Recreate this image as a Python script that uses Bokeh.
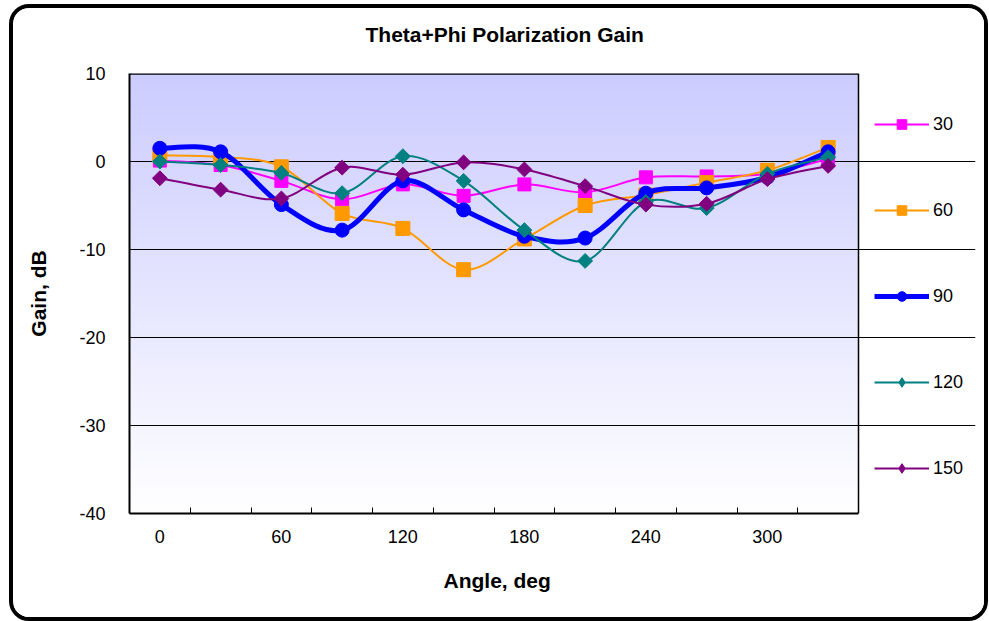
import numpy as np
from bokeh.plotting import figure
from bokeh.models import (ColumnDataSource, FixedTicker, Legend, LegendItem, Title)
from bokeh.embed import file_html
from bokeh.resources import INLINE

# ---------------- data ----------------
angles = [0, 30, 60, 90, 120, 150, 180, 210, 240, 270, 300, 330]
tick_labels = ["0", "60", "120", "180", "240", "300"]
y_ticks = [-40, -30, -20, -10, 0, 10]
gain_30 = [0.1, -0.4, -2.2, -4.3, -2.6, -3.9, -2.6, -3.5, -1.8, -1.7, -1.4, 0.3]
gain_60 = [0.7, 0.5, -0.6, -5.9, -7.6, -12.3, -8.8, -5.0, -3.8, -2.4, -1.0, 1.6]
gain_90 = [1.5, 1.1, -4.9, -7.8, -2.2, -5.5, -8.5, -8.7, -3.6, -3.0, -1.8, 1.1]
gain_120 = [0.0, -0.4, -1.3, -3.6, 0.6, -2.2, -7.8, -11.3, -4.6, -5.3, -1.4, 0.5]
gain_150 = [-1.9, -3.2, -4.2, -0.7, -1.5, -0.1, -0.9, -2.8, -4.9, -4.8, -2.0, -0.5]
series_names = ["30", "60", "90", "120", "150"]

FONT = "Liberation Sans"

# layout (pixels): plot area 729 px wide; frame extended to the right to hold the legend
n_cat = len(angles)
cat_px = 729 / n_cat
frame_px = 846
x_lo = -0.5
x_hi = x_lo + frame_px / cat_px
cat_lo, cat_hi = -0.5, n_cat - 0.5

p = figure(width=979, height=617, x_range=(x_lo, x_hi), y_range=(-40, 10),
           output_backend="svg", toolbar_location=None,
           min_border_left=116, min_border_right=17,
           min_border_top=65, min_border_bottom=112)
p.styles = {"border": "4px solid black", "border-radius": "20px",
            "box-sizing": "border-box", "overflow": "hidden",
            "position": "absolute", "left": "9px", "top": "4px"}

# gradient background of plot area
N = 256
img = np.empty((N, 1), dtype=np.uint32)
view = img.view(dtype=np.uint8).reshape((N, 1, 4))
t = np.linspace(0, 1, N)  # 0 bottom -> 1 top
view[:, 0, 0] = (255 - t * (255 - 204)).astype(np.uint8)
view[:, 0, 1] = (255 - t * (255 - 204)).astype(np.uint8)
view[:, 0, 2] = 255
view[:, 0, 3] = 255
p.image_rgba(image=[img], x=cat_lo, y=-40, dw=cat_hi - cat_lo, dh=50, level="image")

p.background_fill_color = "white"
p.border_fill_color = "white"
p.outline_line_color = None

# plot-area top and right border
p.segment(x0=[cat_lo, cat_hi], y0=[10, -40], x1=[cat_hi, cat_hi], y1=[10, 10],
          line_color="black", line_width=[2.5, 1.5])

# titles: spacer next to the frame, then the real title above it
p.title.text = ""
p.title.visible = False
spacer = Title(text=" ", text_font_size="1px", standoff=20)
p.add_layout(spacer, "above")
main_title = Title(text="Theta+Phi Polarization Gain", align="left", offset=236,
                   standoff=10, text_font=FONT, text_font_size="21px",
                   text_font_style="bold", text_color="black")
p.add_layout(main_title, "above")

# axes
idx = list(range(n_cat))
xa = p.xaxis[0]
xa.bounds = (cat_lo, cat_hi)
xa.ticker = FixedTicker(ticks=idx[::2], minor_ticks=[i + 0.5 for i in idx[:-1]])
xa.major_label_overrides = {i: lab for i, lab in zip(idx[::2], tick_labels)}
xa.major_tick_line_color = None
xa.major_tick_in = 0
xa.major_tick_out = 0
xa.minor_tick_in = 6
xa.minor_tick_out = 0
xa.minor_tick_line_color = "black"
xa.axis_line_width = 2
xa.major_label_standoff = 16

# x-axis title as a "below" title so it is centred on the category area
x_title = Title(text="Angle, deg", align="left", offset=314, standoff=43,
                text_font=FONT, text_font_size="21px", text_font_style="bold",
                text_color="black")
p.add_layout(x_title, "below")

ya = p.yaxis[0]
ya.ticker = FixedTicker(ticks=y_ticks)
ya.major_label_overrides = {v: str(v) for v in y_ticks}
ya.major_tick_line_color = None
ya.minor_tick_line_color = None
ya.major_tick_in = 0
ya.major_tick_out = 0
ya.axis_line_width = 2
ya.axis_label = "Gain, dB"
ya.major_label_standoff = 24
ya.axis_label_standoff = 26

for ax in (xa, ya):
    ax.major_label_text_font = FONT
    ax.major_label_text_font_size = "18px"
    ax.major_label_text_color = "black"
    ax.axis_label_text_font = FONT
    ax.axis_label_text_font_size = "21px"
    ax.axis_label_text_font_style = "bold"
    ax.axis_label_text_color = "black"
    ax.axis_line_color = "black"

p.xgrid.visible = False
p.ygrid.grid_line_color = "black"
p.ygrid.grid_line_width = 1
p.ygrid.bounds = (cat_lo, cat_hi)
p.ygrid.ticker = FixedTicker(ticks=[-30, -20, -10, 0])


def bezier_source(ys):
    n = len(ys)
    x0, y0, x1, y1, cx0, cy0, cx1, cy1 = [], [], [], [], [], [], [], []
    for i in range(n - 1):
        pxm, pym = (i - 1, ys[i - 1]) if i > 0 else (i, ys[i])
        px2, py2 = (i + 2, ys[i + 2]) if i + 2 < n else (i + 1, ys[i + 1])
        x0.append(i); y0.append(ys[i]); x1.append(i + 1); y1.append(ys[i + 1])
        cx0.append(i + (i + 1 - pxm) / 6); cy0.append(ys[i] + (ys[i + 1] - pym) / 6)
        cx1.append(i + 1 - (px2 - i) / 6); cy1.append(ys[i + 1] - (py2 - ys[i]) / 6)
    return ColumnDataSource(dict(x0=x0, y0=y0, x1=x1, y1=y1,
                                 cx0=cx0, cy0=cy0, cx1=cx1, cy1=cy1))


styles = [
    (gain_30, "#FF00FF", 2, "square", 13, 0.0, "square"),
    (gain_60, "#FF9900", 2, "square", 14, 0.0, "square"),
    (gain_90, "#0000FF", 5, "circle", 14, 0.0, "circle"),
    (gain_120, "#008080", 2, "square", 10.5, np.pi / 4, "diamond"),
    (gain_150, "#800080", 2, "square", 10.5, np.pi / 4, "diamond"),
]

items = []
for name, (ys, color, lw, marker, size, ang, leg_marker) in zip(series_names, styles):
    src = bezier_source(ys)
    b = p.bezier(x0="x0", y0="y0", x1="x1", y1="y1", cx0="cx0", cy0="cy0",
                 cx1="cx1", cy1="cy1", source=src, line_color=color, line_width=lw)
    s = p.scatter(x=idx, y=ys, marker=marker, size=size, angle=ang,
                  fill_color=color, line_color=color)
    if leg_marker == marker and ang == 0.0:
        items.append(LegendItem(label=name, renderers=[b, s]))
    else:
        # legend-only marker (unrotated glyph shape), no visible point
        ls = p.scatter(x=[float("nan")], y=[float("nan")], marker=leg_marker,
                       size=size, fill_color=color, line_color=color)
        items.append(LegendItem(label=name, renderers=[b, ls]))

legend = Legend(items=items, location=(745, 33), orientation="vertical",
                padding=0, margin=0, spacing=62, glyph_width=55, glyph_height=24,
                label_height=24, label_standoff=4,
                label_text_font=FONT, label_text_font_size="18px",
                label_text_color="black",
                border_line_color=None, background_fill_alpha=0)
p.add_layout(legend, "center")

open("out.html", "w").write(file_html(p, INLINE))
